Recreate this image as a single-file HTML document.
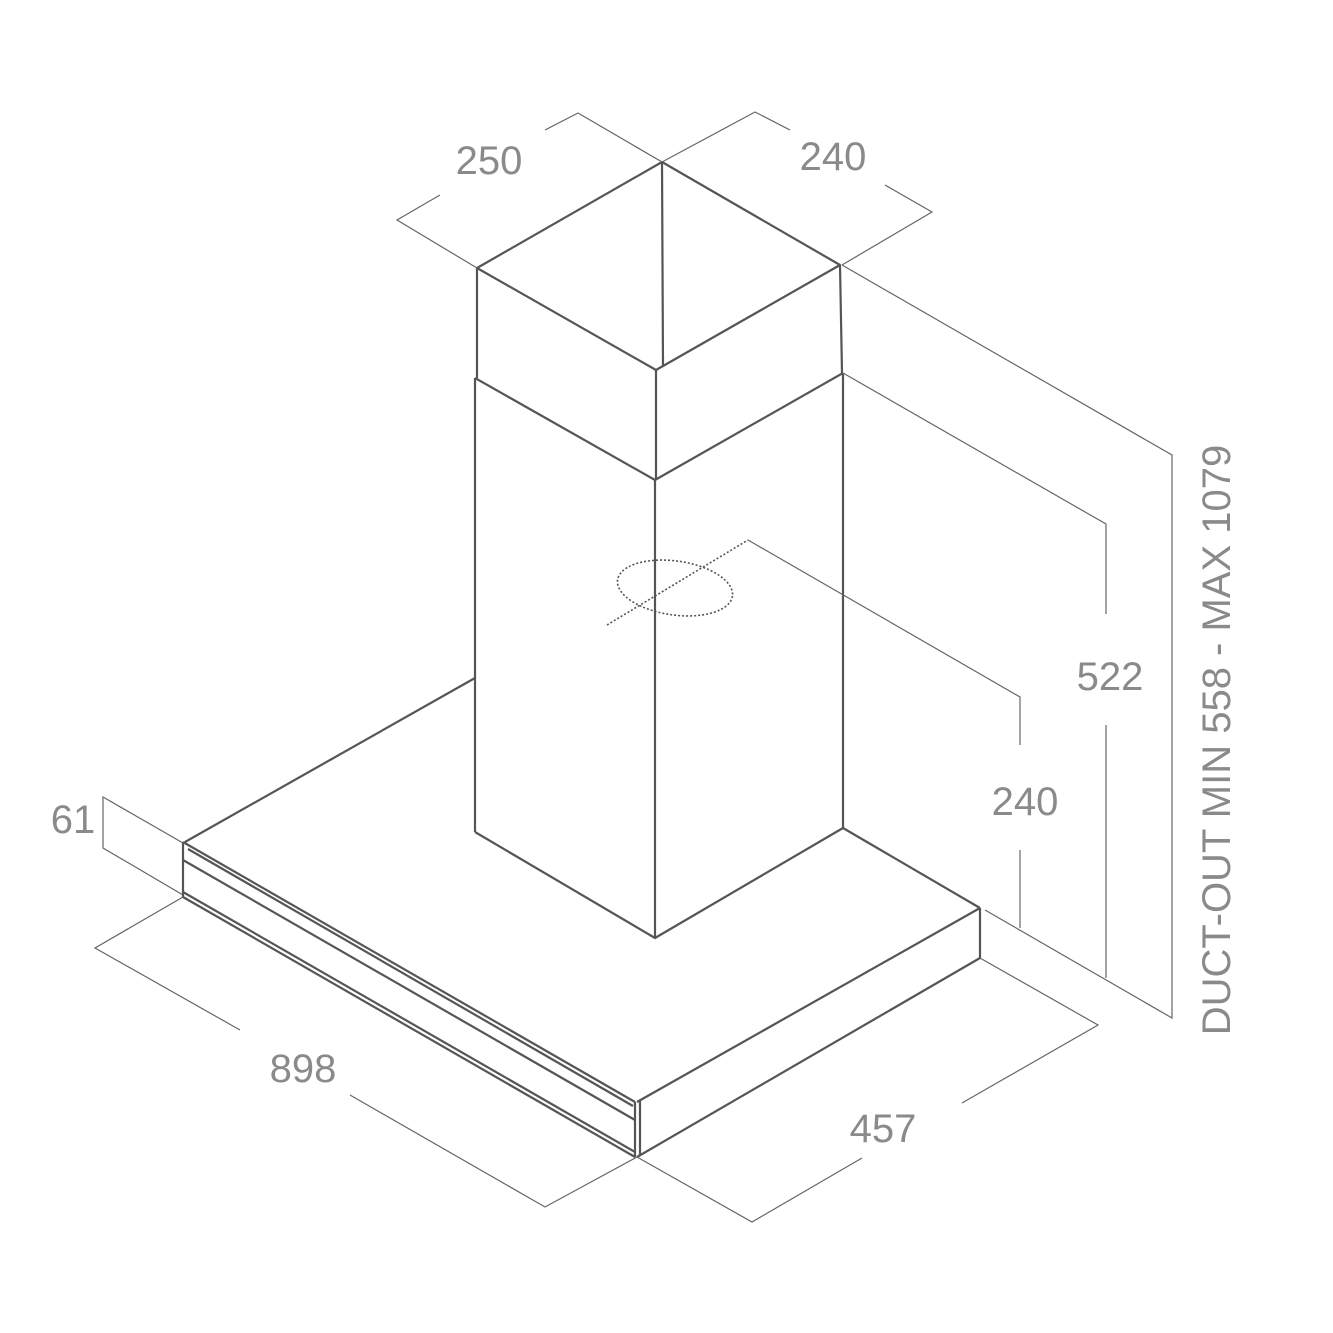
<!DOCTYPE html>
<html><head><style>
html,body{margin:0;padding:0;background:#fff;}
svg{display:block;}
text{font-family:"Liberation Sans",sans-serif;fill:#8a8a8a;font-size:40px;}
</style></head><body>
<svg width="1333" height="1333" viewBox="0 0 1333 1333" xmlns="http://www.w3.org/2000/svg">
<g stroke="#555" stroke-width="2.2" fill="none" stroke-linejoin="round">
<!-- chimney top -->
<polygon points="662,162 477,268 656,370 840,265"/>
<line x1="662" y1="162" x2="663" y2="366"/>
<line x1="477" y1="268" x2="477" y2="378"/>
<line x1="840" y1="265" x2="842" y2="373"/>
<line x1="656" y1="370" x2="656" y2="480"/>
<polyline points="475,378 655,480 843,373"/>
<line x1="475" y1="378" x2="475" y2="832"/>
<line x1="655" y1="480" x2="655" y2="938"/>
<line x1="843" y1="373" x2="843" y2="828"/>
<polyline points="475,832 655,938 843,828"/>
<!-- canopy -->
<line x1="185" y1="842" x2="475" y2="678"/>
<line x1="843" y1="828" x2="980" y2="908"/>
<line x1="980" y1="908" x2="637" y2="1102"/>
<line x1="980" y1="908" x2="980" y2="958"/>
<line x1="980" y1="958" x2="637" y2="1157"/>
<line x1="183" y1="842" x2="183" y2="897"/>
<line x1="635" y1="1102" x2="635" y2="1157"/>
<line x1="640" y1="1100" x2="640" y2="1155"/>
<line x1="183" y1="842" x2="635" y2="1102"/>
<line x1="188" y1="849" x2="633" y2="1106"/>
<line x1="183" y1="860" x2="635" y2="1120"/>
<line x1="183" y1="892" x2="635" y2="1152"/>
<line x1="183" y1="897" x2="635" y2="1157"/>
</g>
<g stroke="#666" stroke-width="1.2" fill="none">
<!-- 250 -->
<polyline points="477,268 397,220 440,195"/>
<polyline points="545,130 578,113 662,162"/>
<!-- 240 top -->
<polyline points="662,162 755,112 790,130"/>
<polyline points="885,185 932,212 842,265"/>
<!-- DUCT -->
<polyline points="842,265 1172,455 1172,1018 985,910"/>
<!-- 522 -->
<polyline points="843,373 1106,524 1106,614"/>
<line x1="1106" y1="725" x2="1106" y2="978"/>
<!-- 240 right -->
<polyline points="748,540 1020,697 1020,745"/>
<line x1="1020" y1="850" x2="1020" y2="928"/>
<!-- 61 -->
<polyline points="183,843 103,797 103,848 183,895"/>
<!-- 898 -->
<polyline points="183,897 95,948 240,1030"/>
<polyline points="350,1095 545,1207 637,1157"/>
<!-- 457 -->
<polyline points="637,1157 752,1222 862,1158"/>
<polyline points="962,1103 1098,1025 980,958"/>
</g>
<!-- dotted ellipse -->
<g stroke="#555" stroke-width="1.6" fill="none" stroke-dasharray="2,2">
<ellipse cx="675" cy="588" rx="58" ry="27" transform="rotate(8 675 588)"/>
<line x1="607" y1="625" x2="748" y2="540"/>
</g>
<text x="489" y="174" text-anchor="middle">250</text>
<text x="833" y="170" text-anchor="middle">240</text>
<text x="1110" y="690" text-anchor="middle">522</text>
<text x="1025" y="815" text-anchor="middle">240</text>
<text x="73" y="833" text-anchor="middle">61</text>
<text x="303" y="1082" text-anchor="middle">898</text>
<text x="883" y="1142" text-anchor="middle">457</text>
<text transform="translate(1230,740) rotate(-90)" text-anchor="middle">DUCT-OUT MIN 558 - MAX 1079</text>
</svg>
</body></html>
